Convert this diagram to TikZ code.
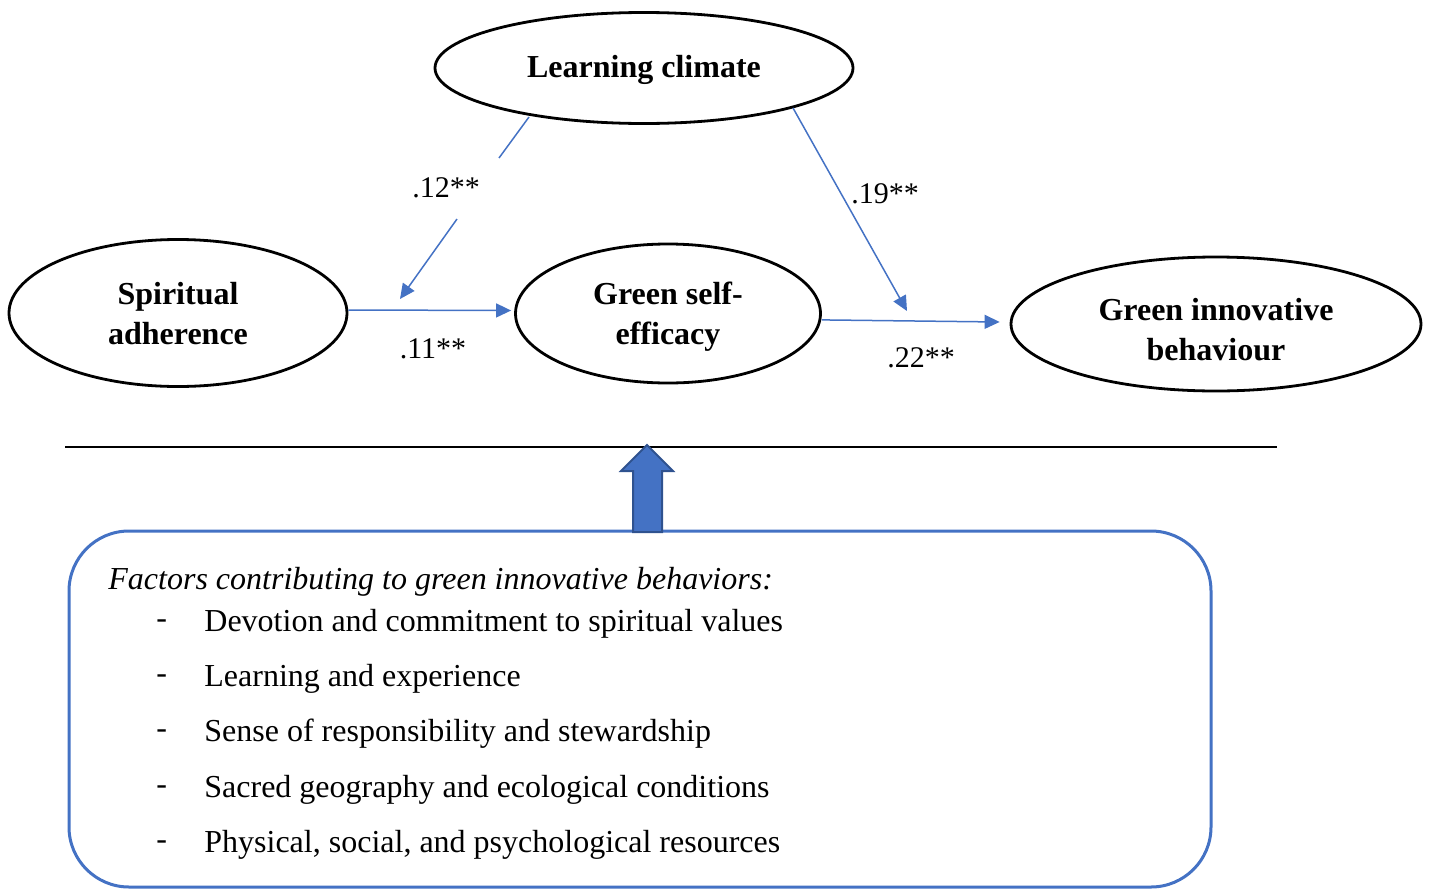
\documentclass[tikz,border=0pt]{standalone}
\usepackage{fontspec}
\setmainfont{Liberation Serif}
\usetikzlibrary{shapes.geometric,arrows.meta}
\definecolor{accent}{HTML}{4472C4}
\definecolor{accentdark}{HTML}{2F528F}
\begin{document}
\begin{tikzpicture}[x=0.5pt,y=-0.5pt,
  construct/.style={ellipse,draw=black,line width=1.4pt,inner sep=0pt},
  caption/.style={inner sep=0pt,align=center,font=\fontsize{16}{20}\selectfont\bfseries},
  flow/.style={draw=accent,line width=0.75pt,
    -{Triangle[length=7.5pt,width=7pt]}},
  plain/.style={draw=accent,line width=0.75pt},
  coef/.style={font=\fontsize{15}{18}\selectfont,inner sep=0pt},
  item/.style={font=\fontsize{16}{19}\selectfont,inner sep=0pt,anchor=west}]
\useasboundingbox (0,0) rectangle (1430,889);

% constructs
\node[construct,minimum width=209pt,minimum height=55.5pt] (lc) at (644,68) {};
\node[construct,minimum width=169pt,minimum height=73.5pt] (sa) at (178,313) {};
\node[construct,minimum width=152.5pt,minimum height=69.5pt] (gse) at (668,313.5) {};
\node[construct,minimum width=205pt,minimum height=67pt] (gib) at (1216,324) {};
\node[caption] (lc-t) at (644,70) {Learning climate};
\node[caption] (sa-t) at (178,314) {Spiritual\\adherence};
\node[caption] (gse-t) at (668,317) {Green self-\\efficacy};
\node[caption] (gib-t) at (1216,330) {Green innovative\\behaviour};

% direct paths
\draw[flow] ([yshift=1.5pt]sa.east) -- ([xshift=-1.5pt,yshift=1.5pt]gse.west);
\draw[flow] ([yshift=-3.2pt]gse.east) -- ([xshift=-5pt,yshift=1pt]gib.west);

% moderating paths from the learning climate
\coordinate (p1) at (529,117);
\coordinate (q1) at (499,158);
\coordinate (q2) at (457,219);
\coordinate (m1) at (400,299);
\draw[plain] (p1) -- (q1);
\draw[flow] (q2) -- (m1);
\coordinate (p2) at (793,108);
\coordinate (m2) at (907,311);
\draw[flow] (p2) -- (m2);

% coefficients
\node[coef] (c12) at (446,188) {.12**};
\node[coef] (c19) at (885,194) {.19**};
\node[coef] (c11) at (433,349) {.11**};
\node[coef] (c22) at (921,358) {.22**};

% separator line
\coordinate (s1) at (65,447);
\coordinate (s2) at (1277,447);
\draw[line width=1pt] (s1) -- (s2);

% factors box
\draw[draw=accent,line width=1.5pt,rounded corners=30pt] (69,531) rectangle (1211,887);

% block arrow
\draw[fill=accent,draw=accentdark,line width=1pt,line join=miter]
  (633,532) -- (633,471) -- (621,471) -- (647,445) -- (673,471) -- (662,471) -- (662,532) -- cycle;

\node[item,font=\fontsize{16}{19}\selectfont\itshape] (ft) at (108,582) {Factors contributing to green innovative behaviors:};
\foreach \y/\t [count=\i] in {624/Devotion and commitment to spiritual values,
  679/Learning and experience,
  734/Sense of responsibility and stewardship,
  790/Sacred geography and ecological conditions,
  845/{Physical, social, and psychological resources}} {
  \node[item] (d\i) at (156,\y) {-};
  \node[item] (f\i) at (204,\y) {\t};
}
\end{tikzpicture}
\end{document}
